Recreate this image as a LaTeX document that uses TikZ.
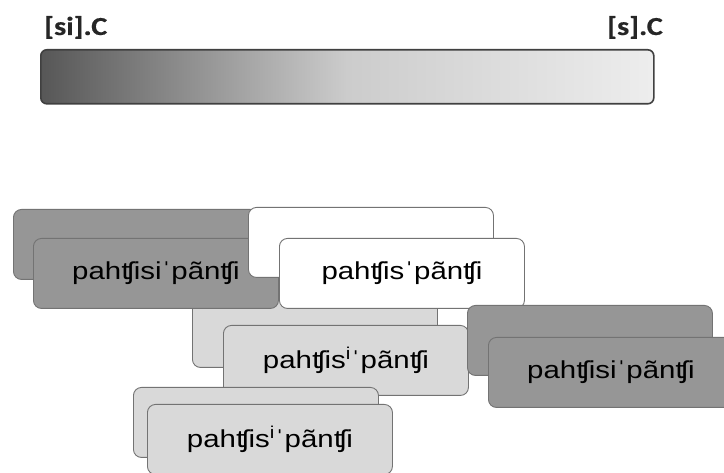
\documentclass[tikz,border=0pt]{standalone}
\usepackage{fontspec}
\setmainfont{Liberation Sans}
\newfontfamily\boxfont[FakeStretch=1.2]{Liberation Sans}
\newfontfamily\hdrfont[FakeStretch=1.17,FakeBold=0.5]{Carlito}
\begin{document}
\begin{tikzpicture}[x=1pt,y=-1pt,
  box/.style={draw=black!55, line width=0.9pt, rounded corners=8pt, anchor=north west,
     minimum width=245pt, minimum height=70pt, inner sep=0pt, font=\boxfont\fontsize{24.5}{26}\selectfont},
  darkbox/.style={box, fill=black!41},
  lightbox/.style={box, fill=black!15},
  whitebox/.style={box, fill=white},
  hdr/.style={font=\hdrfont\bfseries\fontsize{26}{28}\selectfont, inner sep=0pt, text=black!85}]
\useasboundingbox (0,0) rectangle (724,473);
% header
\node[hdr, anchor=base west] (l1) at (44,35) {[si].C};
\node[hdr, anchor=base east] (l2) at (663,35) {[s].C};
\node[draw=black!75, line width=1.6pt, rounded corners=6pt, anchor=north west,
  minimum width=613pt, minimum height=54pt, inner sep=0pt,
  left color=black!66, right color=black!7, middle color=black!20] (bar) at (40,49) {};
% boxes
\node[darkbox] (A) at (13,209) {};
\node[lightbox] (E) at (192,297) {};
\node[darkbox] (B) at (33,238) {pahʧisiˈpãnʧi};
\node[whitebox] (C) at (248,207) {};
\node[whitebox] (D) at (279,238) {pahʧisˈpãnʧi};
\node[lightbox] (F) at (223,325) {pahʧis\textsuperscript{i}ˈpãnʧi};
\node[darkbox] (G) at (467,305) {};
\node[darkbox] (H) at (488,337) {pahʧisiˈpãnʧi};
\node[lightbox] (I) at (133,387) {};
\node[lightbox] (J) at (147,404) {pahʧis\textsuperscript{i}ˈpãnʧi};
\end{tikzpicture}
\end{document}
